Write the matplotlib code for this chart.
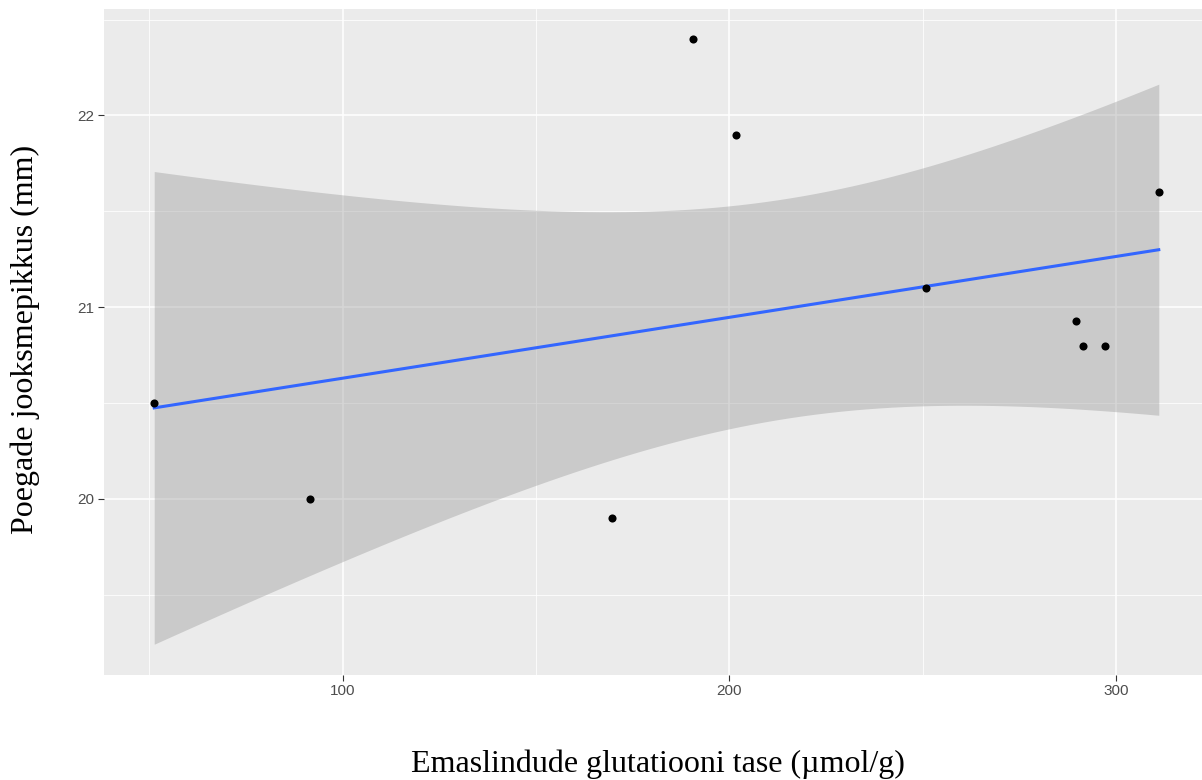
import numpy as np
import matplotlib.pyplot as plt
from matplotlib.ticker import MultipleLocator

# andmed (loetud jooniselt)
glutatioon = [51.3, 91.7, 169.7, 190.7, 201.8, 250.8, 289.6, 291.4, 297.2, 311.1]
jooksme = [20.5, 20.0, 19.9, 22.4, 21.9, 21.1, 20.93, 20.8, 20.8, 21.6]

x = np.array(glutatioon)
y = np.array(jooksme)

# lineaarne regressioon + 95% usaldusvahemik (nagu geom_smooth(method='lm'))
n = len(x)
slope, intercept = np.polyfit(x, y, 1)
resid = y - (slope * x + intercept)
s = np.sqrt(np.sum(resid ** 2) / (n - 2))
sxx = np.sum((x - x.mean()) ** 2)
t975 = 2.306  # t(0.975, df=8)
xs = np.linspace(x.min(), x.max(), 80)
ys = slope * xs + intercept
se = s * np.sqrt(1 / n + (xs - x.mean()) ** 2 / sxx)

fig = plt.figure(figsize=(12.02, 7.80), dpi=100)
# paneel ulatub veidi üle parema serva (nagu lõigatud originaalis)
ax = fig.add_axes([104 / 1202, (780 - 674.5) / 780, 1105 / 1202, 666 / 780])
ax.set_facecolor('#EBEBEB')

ax.fill_between(xs, ys - t975 * se, ys + t975 * se, color='#999999', alpha=0.4,
                linewidth=0, zorder=2)
ax.plot(xs, ys, color='#3366FF', linewidth=2.2, zorder=3)
ax.scatter(x, y, s=34, color='black', zorder=4, linewidths=0)

# telgede ulatus (ggplot 5% laiendus)
xr = x.max() - x.min()
ax.set_xlim(x.min() - 0.05 * xr, x.max() + 0.05 * xr)
ylo = (ys - t975 * se).min()
yhi = max(y.max(), (ys + t975 * se).max())
ax.set_ylim(ylo - 0.05 * (yhi - ylo), yhi + 0.05 * (yhi - ylo))

ax.xaxis.set_major_locator(MultipleLocator(100))
ax.xaxis.set_minor_locator(MultipleLocator(50))
ax.yaxis.set_major_locator(MultipleLocator(1))
ax.yaxis.set_minor_locator(MultipleLocator(0.5))
ax.grid(which='major', color='white', linewidth=1.1, zorder=1)
ax.grid(which='minor', color='white', linewidth=0.55, zorder=1)
ax.set_axisbelow(True)
for sp in ax.spines.values():
    sp.set_visible(False)

ax.tick_params(which='major', length=4, width=0.8, color='#333333',
               labelcolor='#4D4D4D', labelsize=11, pad=3)
ax.tick_params(which='minor', length=0)
for lab in ax.get_xticklabels() + ax.get_yticklabels():
    lab.set_family('Liberation Sans')

# telgede pealkirjad
fig.text(658 / 1202, 1 - 764 / 780, 'Emaslindude glutatiooni tase (µmol/g)',
         family='Liberation Serif', fontsize=23, ha='center', va='center')
fig.text(25 / 1202, 1 - 339 / 780, 'Poegade jooksmepikkus (mm)',
         family='Liberation Serif', fontsize=23, ha='center', va='center',
         rotation=90)

plt.savefig('out.png', dpi=100)
